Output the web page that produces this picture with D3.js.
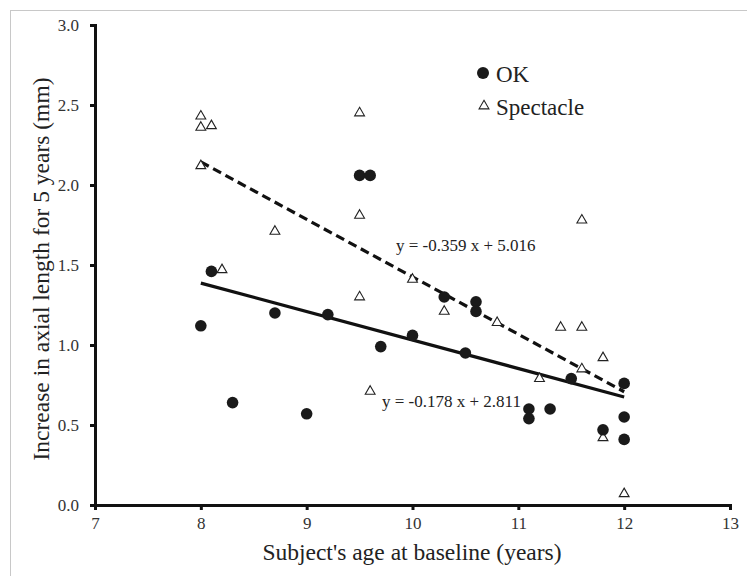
<!DOCTYPE html>
<html>
<head>
<meta charset="utf-8">
<script src="https://cdnjs.cloudflare.com/ajax/libs/d3/7.8.5/d3.min.js"></script>
<style>
  body { margin: 0; background: #fff; }
</style>
</head>
<body>
<div id="chart"></div>
<script>
// OK group: [age, increase]
const okAge = [8.0, 8.1, 8.3, 8.7, 9.0, 9.2, 9.5, 9.6, 9.7, 10.0, 10.3, 10.5, 10.6, 10.6, 11.1, 11.1, 11.3, 11.5, 11.8, 12.0, 12.0, 12.0]
const okInc = [1.12, 1.46, 0.64, 1.20, 0.57, 1.19, 2.06, 2.06, 0.99, 1.06, 1.30, 0.95, 1.27, 1.21, 0.60, 0.54, 0.60, 0.79, 0.47, 0.76, 0.55, 0.41]

// Spectacle group
const specAge = [8.0, 8.0, 8.1, 8.0, 8.2, 8.7, 9.5, 9.5, 9.5, 9.6, 10.0, 10.3, 10.8, 11.2, 11.4, 11.6, 11.6, 11.6, 11.8, 11.8, 12.0]
const specInc = [2.43, 2.36, 2.37, 2.12, 1.47, 1.71, 2.45, 1.81, 1.30, 0.71, 1.41, 1.21, 1.14, 0.79, 1.11, 1.11, 1.78, 0.85, 0.92, 0.42, 0.07]

// trend lines: slope, intercept
const okFit = [-0.178, 2.811]
const specFit = [-0.359, 5.016]
const fitRange = [8, 12]

const xTicks = [7, 8, 9, 10, 11, 12, 13]
const yTicks = [0, 0.5, 1.0, 1.5, 2.0, 2.5, 3.0]

const width = 747, height = 576
const serif = "'Liberation Serif', 'Times New Roman', Tinos, 'DejaVu Serif', serif"

const svg = d3.select("#chart").append("svg")
  .attr("width", width)
  .attr("height", height)
  .style("font-family", serif)

// light frame
svg.append("rect")
  .attr("x", 10.5).attr("y", 10.5)
  .attr("width", 800).attr("height", 800)
  .attr("fill", "none")
  .attr("stroke", "#c8c8c8")
  .attr("stroke-width", 1)

const x = d3.scaleLinear().domain([7, 13]).range([95, 730])
const y = d3.scaleLinear().domain([0, 3]).range([505, 25])

// trend lines
const line = d3.line().x(d => x(d[0])).y(d => y(d[1]))
const fitPts = f => fitRange.map(a => [a, f[0] * a + f[1]])

svg.append("path")
  .attr("d", line(fitPts(specFit)))
  .attr("fill", "none").attr("stroke", "#111")
  .attr("stroke-width", 3.2)
  .attr("stroke-dasharray", "9,5")

svg.append("path")
  .attr("d", line(fitPts(okFit)))
  .attr("fill", "none").attr("stroke", "#111")
  .attr("stroke-width", 3.2)

// points
const tri = d3.symbol().type(d3.symbolTriangle).size(42)

svg.selectAll(".spec")
  .data(specAge.map((a, i) => [a, specInc[i]]))
  .enter().append("path")
  .attr("class", "spec")
  .attr("d", tri)
  .attr("transform", d => `translate(${x(d[0])},${y(d[1])})`)
  .attr("fill", "#fff").attr("stroke", "#222").attr("stroke-width", 1.1)

svg.selectAll(".ok")
  .data(okAge.map((a, i) => [a, okInc[i]]))
  .enter().append("circle")
  .attr("class", "ok")
  .attr("cx", d => x(d[0]))
  .attr("cy", d => y(d[1]))
  .attr("r", 5.8)
  .attr("fill", "#1a1a1a")

// axes
const xAxis = d3.axisBottom(x).tickValues(xTicks).tickSize(5).tickPadding(7).tickFormat(d3.format("d"))
const yAxis = d3.axisLeft(y).tickValues(yTicks).tickSize(5).tickPadding(11).tickFormat(d3.format(".1f"))

const gx = svg.append("g").attr("transform", "translate(0,505)").call(xAxis)
const gy = svg.append("g").attr("transform", "translate(95,0)").call(yAxis)

for (const g of [gx, gy]) {
  g.attr("font-family", null)
  g.select(".domain").attr("stroke", "#111").attr("stroke-width", 3)
  g.selectAll(".tick line").attr("stroke", "#111").attr("stroke-width", 3)
  g.selectAll(".tick text")
    .attr("fill", "#333")
    .style("font-size", "17px")
    .style("font-family", serif)
}

// equations
svg.append("text")
  .attr("x", 396).attr("y", 251)
  .style("font-size", "17px").attr("fill", "#222")
  .text("y = -0.359 x + 5.016")

svg.append("text")
  .attr("x", 382).attr("y", 407)
  .style("font-size", "17px").attr("fill", "#222")
  .text("y = -0.178 x + 2.811")

// legend
svg.append("circle").attr("cx", 483).attr("cy", 73).attr("r", 6).attr("fill", "#1a1a1a")
svg.append("text").attr("x", 496).attr("y", 82)
  .style("font-size", "23px").attr("fill", "#222").text("OK")
svg.append("path").attr("d", tri)
  .attr("transform", "translate(484,106)")
  .attr("fill", "#fff").attr("stroke", "#222").attr("stroke-width", 1.1)
svg.append("text").attr("x", 496).attr("y", 115)
  .style("font-size", "23px").attr("fill", "#222").text("Spectacle")

// axis titles
svg.append("text")
  .attr("x", 412).attr("y", 560)
  .attr("text-anchor", "middle")
  .style("font-size", "23.5px").attr("fill", "#222")
  .text("Subject's age at baseline (years)")

svg.append("text")
  .attr("transform", "translate(49,269) rotate(-90)")
  .attr("text-anchor", "middle")
  .style("font-size", "23.5px").attr("fill", "#222")
  .text("Increase in axial length for 5 years (mm)")
</script>
</body>
</html>
